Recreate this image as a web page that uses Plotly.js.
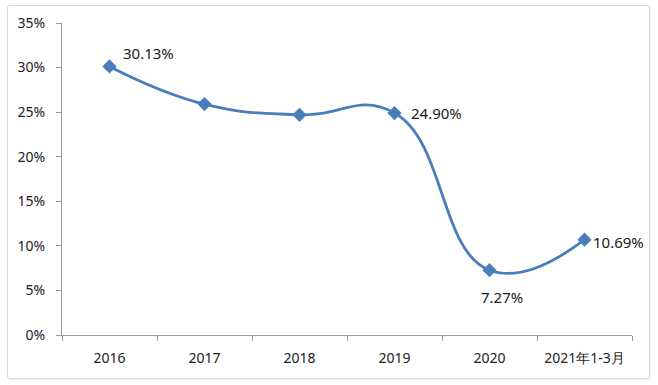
<!DOCTYPE html>
<html>
<head>
<meta charset="utf-8">
<script src="https://cdn.plot.ly/plotly-3.0.1.min.js"></script>
<style>
html,body{margin:0;padding:0;background:#fff;}
#frame{position:absolute;left:7px;top:5px;width:641px;height:372px;border:1px solid #d9d9d9;border-radius:3px;box-shadow:1px 1px 2px rgba(0,0,0,0.08);}
#chart{position:absolute;left:0;top:0;width:658px;height:385px;}
</style>
</head>
<body>
<div id="frame"></div>
<div id="chart"></div>
<script>
const categories = ["2016", "2017", "2018", "2019", "2020", "2021年1-3月"];
const values = [0.3013, 0.259, 0.247, 0.249, 0.0727, 0.1069];
const labelText = ["30.13%", null, null, "24.90%", "7.27%", "10.69%"];
const yTickVals = [0, 0.05, 0.10, 0.15, 0.20, 0.25, 0.30, 0.35];
const yTickText = ["0%", "5%", "10%", "15%", "20%", "25%", "30%", "35%"];

const labelOffsets = [
  {xs: 11, ys: 13, xa: "left"},
  null, null,
  {xs: 14, ys: 0, xa: "left"},
  {xs: 12, ys: -27, xa: "center"},
  {xs: 6, ys: -2, xa: "left"}
];

const annotations = [];
labelText.forEach((t, i) => {
  if (!t) return;
  const o = labelOffsets[i];
  annotations.push({
    x: i, y: values[i], xref: "x", yref: "y",
    text: t, showarrow: false, xanchor: o.xa, yanchor: "middle",
    xshift: o.xs, yshift: o.ys,
    font: {family: "Noto Sans, Open Sans, sans-serif", size: 15, color: "#1a1a1a"}
  });
});

const trace = {
  x: categories, y: values, type: "scatter", mode: "lines+markers",
  line: {color: "#4a7ebb", width: 2.8, shape: "spline", smoothing: 1.3},
  marker: {symbol: "diamond", size: 11, color: "#4a7ebb"},
  hoverinfo: "skip"
};

const layout = {
  width: 658, height: 385,
  margin: {l: 62, r: 26, t: 23, b: 50},
  paper_bgcolor: "rgba(0,0,0,0)", plot_bgcolor: "rgba(0,0,0,0)",
  showlegend: false,
  font: {family: "Noto Sans, Open Sans, sans-serif", size: 14, color: "#222"},
  xaxis: {
    type: "category", range: [-0.5, 5.5], showgrid: false, zeroline: false,
    showline: true, linecolor: "#9a9a9a", linewidth: 1,
    ticks: "outside", tickson: "boundaries", ticklen: 5, tickcolor: "#9a9a9a",
    ticklabelstandoff: 10,
    tickfont: {size: 14, color: "#222"}, fixedrange: true
  },
  yaxis: {
    range: [0, 0.35], tickvals: yTickVals, ticktext: yTickText,
    showgrid: false, zeroline: false, showline: true, linecolor: "#9a9a9a", linewidth: 1,
    ticks: "outside", ticklen: 5, tickcolor: "#9a9a9a",
    ticklabelstandoff: 8,
    tickfont: {size: 14, color: "#222"}, fixedrange: true
  },
  annotations: annotations
};

Plotly.newPlot("chart", [trace], layout, {displayModeBar: false, staticPlot: true});
</script>
</body>
</html>
